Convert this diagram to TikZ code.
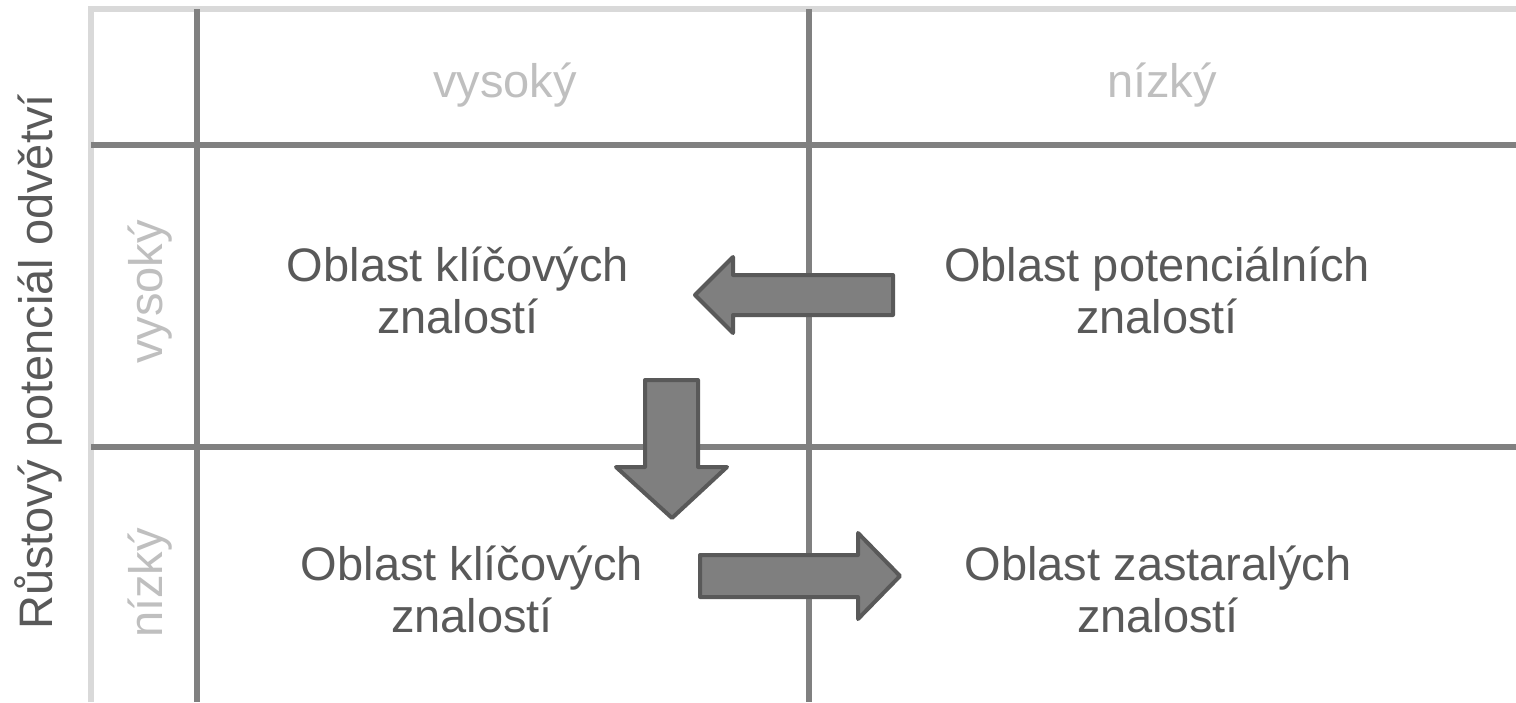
\documentclass[tikz,border=0pt]{standalone}
\usepackage{fontspec}
\setmainfont{Liberation Sans}
\definecolor{txtdark}{HTML}{595959}
\definecolor{txtlight}{HTML}{BFBFBF}
\definecolor{griddark}{HTML}{808080}
\definecolor{gridlight}{HTML}{D9D9D9}
\definecolor{arrowfill}{HTML}{7F7F7F}
\definecolor{arrowedge}{HTML}{595959}
\tikzset{
  bigtext/.style={font=\fontsize{47}{52.5}\selectfont, text=txtdark, inner sep=0pt},
  headtext/.style={font=\fontsize{47}{52.5}\selectfont, text=txtlight, inner sep=0pt},
  lightline/.style={draw=gridlight, line width=5.5pt},
  darkline/.style={draw=griddark, line width=6pt},
  blockarrow/.style={fill=arrowfill, draw=arrowedge, line width=4pt, line join=round},
}
\begin{document}
\begin{tikzpicture}[x=1pt,y=-1pt]
\useasboundingbox[fill=white] (0,0) rectangle (1516,702);
% frame
\coordinate (tl) at (91,9);
\coordinate (tr) at (1516,9);
\coordinate (bl) at (91,702);
\draw[lightline] (bl) -- (tl) -- (tr);
% grid
\coordinate (v1t) at (197,9);   \coordinate (v1b) at (197,702);
\coordinate (v2t) at (809,9);   \coordinate (v2b) at (809,702);
\coordinate (h1l) at (91,145);  \coordinate (h1r) at (1516,145);
\coordinate (h2l) at (91,447);  \coordinate (h2r) at (1516,447);
\draw[darkline] (v1t) -- (v1b);
\draw[darkline] (v2t) -- (v2b);
\draw[darkline] (h1l) -- (h1r);
\draw[darkline] (h2l) -- (h2r);
% headers
\node[headtext, anchor=base] (hvys) at (505,97) {vysoký};
\node[headtext, anchor=base] (hniz) at (1162,97) {nízký};
\node[headtext, anchor=base, rotate=90] (rvys) at (162,292) {vysoký};
\node[headtext, anchor=base, rotate=90] (rniz) at (162,583) {nízký};
\node[bigtext, anchor=base, rotate=90] (axis) at (52,362) {Růstový potenciál odvětví};
% cell texts
\node[bigtext, anchor=base] (k1a) at (458,281) {Oblast klíčových};
\node[bigtext, anchor=base] (k1b) at (458,333) {znalostí};
\node[bigtext, anchor=base] (p1a) at (1157,281) {Oblast potenciálních};
\node[bigtext, anchor=base] (p1b) at (1157,333) {znalostí};
\node[bigtext, anchor=base] (k2a) at (472,580) {Oblast klíčových};
\node[bigtext, anchor=base] (k2b) at (472,632) {znalostí};
\node[bigtext, anchor=base] (z2a) at (1158,580) {Oblast zastaralých};
\node[bigtext, anchor=base] (z2b) at (1158,632) {znalostí};
% block arrows
\draw[blockarrow] (893,275) -- (733,275) -- (733,257) -- (695,295) -- (733,333) -- (733,315) -- (893,315) -- cycle;
\draw[blockarrow] (645,380) -- (698,380) -- (698,467) -- (727,467) -- (672,518) -- (616,467) -- (645,467) -- cycle;
\draw[blockarrow] (700,555) -- (858,555) -- (858,533) -- (900,576) -- (858,619) -- (858,597) -- (700,597) -- cycle;
\end{tikzpicture}
\end{document}
